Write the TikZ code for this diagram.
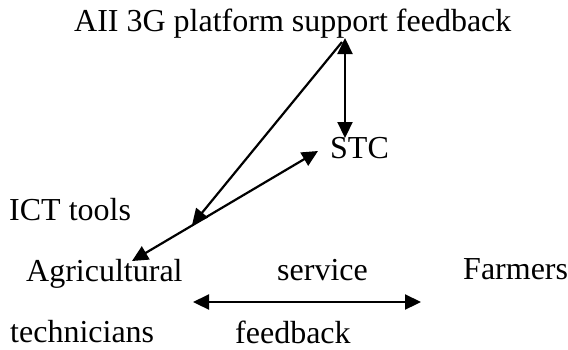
\documentclass[tikz,border=0pt]{standalone}
\usepackage{fontspec}
\setmainfont{Liberation Serif}
\usetikzlibrary{arrows.meta}
\begin{document}
\begin{tikzpicture}[x=1bp,y=-1bp,
  label text/.style={anchor=base west,inner sep=0pt,font=\fontsize{32bp}{38bp}\selectfont},
  link/.style={line width=2.2bp,draw=black},
  tip/.style={-{Triangle[length=16bp,width=15bp]}},
  tips/.style={{Triangle[length=16bp,width=15bp]}-{Triangle[length=16bp,width=15bp]}}]
\useasboundingbox (0,0) rectangle (568,349);
% labels
\node[label text] (platform) at (74,31) {AII 3G platform support feedback};
\node[label text] (stc) at (330,158) {STC};
\node[label text] (ict) at (9,220) {ICT tools};
\node[label text] (agri) at (26,281) {Agricultural};
\node[label text] (service) at (277,280) {service};
\node[label text] (farmers) at (463,279) {Farmers};
\node[label text] (tech) at (10,342) {technicians};
\node[label text] (fb) at (235,343) {feedback};
% connector end points
\coordinate (platformtop) at (345,38);
\coordinate (stctop) at (345,138);
\coordinate (platformfoot) at (342,42);
\coordinate (ictjoin) at (192,225);
\coordinate (agritip) at (132,261);
\coordinate (stcleft) at (318,151);
\coordinate (techright) at (193,302);
\coordinate (farmleft) at (421,302);
% connectors
\draw[link,tips] (platformtop) -- (stctop);
\draw[link,tip] (platformfoot) -- (ictjoin);
\draw[link,tips] (agritip) -- (stcleft);
\draw[link,tips] (techright) -- (farmleft);
\end{tikzpicture}
\end{document}
